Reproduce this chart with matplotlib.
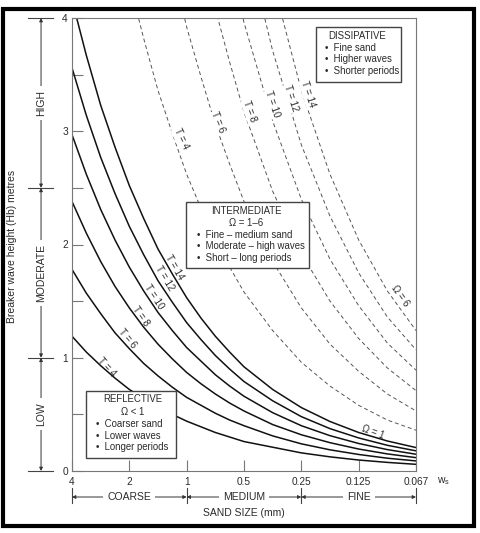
import matplotlib.pyplot as plt
import numpy as np
from matplotlib.patches import Rectangle
from matplotlib.transforms import blended_transform_factory

plt.rcParams['font.family'] = ['Liberation Sans', 'DejaVu Sans']
plt.rcParams['mathtext.fontset'] = 'custom'
plt.rcParams['mathtext.rm'] = 'Liberation Sans'

# sand size ticks (mm), evenly spaced along the axis
sand_sizes = ['4', '2', '1', '0.5', '0.25', '0.125', '0.067']
# positions along the axis where the curves were read (tick index units)
x_pos = [0, 0.25, 0.5, 0.75, 1, 1.25, 1.5, 1.75, 2, 2.25, 2.5, 2.75, 3,
         3.5, 4, 4.5, 5, 5.5, 6]

# breaker height Hb (m) for omega = 1, one list per wave period T
omega1_T4 = [1.19, 1.05, 0.93, 0.82, 0.72, 0.64, 0.56, 0.50, 0.44, 0.39, 0.34, 0.30, 0.26,
             0.21, 0.16, 0.125, 0.097, 0.076, 0.059]
omega1_T6 = [1.78, 1.57, 1.39, 1.22, 1.08, 0.95, 0.84, 0.74, 0.65, 0.58, 0.51, 0.45, 0.40,
             0.31, 0.24, 0.187, 0.146, 0.113, 0.089]
omega1_T8 = [2.38, 2.10, 1.85, 1.63, 1.44, 1.27, 1.12, 0.99, 0.87, 0.77, 0.68, 0.60, 0.53,
             0.41, 0.32, 0.25, 0.194, 0.151, 0.118]
omega1_T10 = [2.97, 2.62, 2.31, 2.04, 1.80, 1.59, 1.40, 1.24, 1.09, 0.97, 0.85, 0.75, 0.66,
              0.515, 0.40, 0.312, 0.243, 0.189, 0.148]
omega1_T12 = [3.56, 3.14, 2.77, 2.45, 2.16, 1.91, 1.68, 1.49, 1.31, 1.16, 1.02, 0.90, 0.79,
              0.62, 0.48, 0.374, 0.292, 0.227, 0.178]
omega1_T14 = [4.16, 3.67, 3.23, 2.86, 2.52, 2.23, 1.96, 1.74, 1.53, 1.35, 1.19, 1.05, 0.92,
              0.72, 0.56, 0.437, 0.34, 0.265, 0.207]

# breaker height Hb (m) for omega = 6 (None = above the chart)
omega6_T4 = [None, None, None, None, 4.32, 3.82, 3.36, 2.98, 2.62, 2.32, 2.04, 1.80, 1.58,
             1.24, 0.96, 0.75, 0.58, 0.45, 0.36]
omega6_T6 = [None, None, None, None, None, None, None, 4.46, 3.92, 3.48, 3.06, 2.71, 2.38,
             1.85, 1.44, 1.12, 0.88, 0.68, 0.53]
omega6_T8 = [None, None, None, None, None, None, None, None, None, None, 4.08, 3.61, 3.17,
             2.47, 1.92, 1.50, 1.17, 0.91, 0.71]
omega6_T10 = [None, None, None, None, None, None, None, None, None, None, None, 4.51, 3.96,
              3.09, 2.40, 1.87, 1.46, 1.13, 0.89]
omega6_T12 = [None, None, None, None, None, None, None, None, None, None, None, None, 4.75,
              3.71, 2.88, 2.25, 1.75, 1.36, 1.07]
omega6_T14 = [None, None, None, None, None, None, None, None, None, None, None, None, None,
              4.33, 3.36, 2.62, 2.04, 1.59, 1.24]

periods = [4, 6, 8, 10, 12, 14]
solid = [omega1_T4, omega1_T6, omega1_T8, omega1_T10, omega1_T12, omega1_T14]
dashed = [omega6_T4, omega6_T6, omega6_T8, omega6_T10, omega6_T12, omega6_T14]

txt = '#2a2a2a'
fig = plt.figure(figsize=(4.81, 5.33), dpi=100)
ax = fig.add_axes([72/481, 1-471/533, 344/481, 453/533])

for vals in solid:
    ax.plot(x_pos, vals, color='#111111', lw=1.1, zorder=2)
for vals in dashed:
    ax.plot(x_pos, np.array(vals, dtype=float), color='#555555', lw=0.7,
            ls=(0, (4, 3)), zorder=2)

ax.set_xlim(0, 6)
ax.set_ylim(0, 4)
ax.set_xticks(range(7))
ax.set_xticklabels(sand_sizes)
ax.set_yticks([0, 1, 2, 3, 4])
ax.set_yticks([0.5, 1.5, 2.5, 3.5], minor=True)
ax.tick_params(which='both', direction='in', length=8, width=0.8, color='#777777',
               labelsize=7.3, labelcolor=txt)
ax.tick_params(axis='x', pad=4)
ax.tick_params(axis='y', pad=3)
for s in ax.spines.values():
    s.set_color('#777777')
    s.set_linewidth(0.8)

# curve labels (T values)
solid_lab = [(0.61, 0.92, -48), (0.96, 1.17, -50), (1.20, 1.37, -55),
             (1.43, 1.54, -57), (1.61, 1.70, -59), (1.78, 1.80, -60)]
dashed_lab = [(1.90, 2.93, -65), (2.55, 3.08, -68), (3.10, 3.18, -70),
              (3.49, 3.24, -71), (3.82, 3.29, -72), (4.12, 3.33, -72)]
for T, (x, y, r) in zip(periods, solid_lab):
    ax.text(x, y, 'T = %d' % T, rotation=r, ha='center', va='center', fontsize=6.9,
            color=txt, zorder=3)
for T, (x, y, r) in zip(periods, dashed_lab):
    ax.text(x, y, 'T = %d' % T, rotation=r, ha='center', va='center', fontsize=6.9,
            color=txt, zorder=3,
            bbox=dict(boxstyle='square,pad=0.1', fc='white', ec='none'))
ax.text(5.25, 0.345, 'Ω = 1', rotation=-20, ha='center', va='center', fontsize=6.9, color=txt)
ax.text(5.72, 1.55, 'Ω = 6', rotation=-55, ha='center', va='center', fontsize=6.9, color=txt,
        bbox=dict(boxstyle='square,pad=0.1', fc='white', ec='none'))


def box(x0, y0, x1, y1):
    ax.add_patch(Rectangle((x0, y0), x1-x0, y1-y0, transform=ax.transAxes,
                           fc='white', ec='#444444', lw=1.0, zorder=4))


def line(x, y, s, ha='left'):
    ax.text(x, y, s, transform=ax.transAxes, ha=ha, va='center', fontsize=6.9,
            color=txt, zorder=5)


# reflective
box(0.041, 0.029, 0.302, 0.177)
line(0.177, 0.159, 'REFLECTIVE', 'center')
line(0.177, 0.131, 'Ω < 1', 'center')
for yy, s in zip([0.104, 0.078, 0.053], ['Coarser sand', 'Lower waves', 'Longer periods']):
    line(0.070, yy, '•  ' + s)

# intermediate
box(0.331, 0.448, 0.689, 0.594)
line(0.506, 0.574, 'INTERMEDIATE', 'center')
line(0.506, 0.548, 'Ω = 1–6', 'center')
for yy, s in zip([0.521, 0.497, 0.471], ['Fine – medium sand', 'Moderate – high waves',
                                         'Short – long periods']):
    line(0.363, yy, '•  ' + s)

# dissipative
box(0.709, 0.859, 0.956, 0.980)
line(0.830, 0.960, 'DISSIPATIVE', 'center')
for yy, s in zip([0.934, 0.909, 0.883], ['Fine sand', 'Higher waves', 'Shorter periods']):
    line(0.735, yy, '•  ' + s)

# wave height classes on the left
tr_y = blended_transform_factory(ax.transAxes, ax.transData)
xa = -0.090
for yb in [0, 1, 2.5, 4]:
    ax.plot([-0.128, -0.055], [yb, yb], transform=tr_y, clip_on=False, color='#444444', lw=0.8)
for lo, hi, name in [(2.5, 4, 'HIGH'), (1, 2.5, 'MODERATE'), (0, 1, 'LOW')]:
    ax.annotate('', xy=(xa, hi), xytext=(xa, lo), xycoords=tr_y, textcoords=tr_y,
                arrowprops=dict(arrowstyle='<|-|>', lw=0.7, color='#333333',
                                shrinkA=0, shrinkB=0, mutation_scale=5))
    ax.text(xa, (lo+hi)/2, name, transform=tr_y, rotation=90, ha='center', va='center',
            fontsize=7.5, color=txt, bbox=dict(boxstyle='square,pad=0.4', fc='white', ec='none'))

# sand classes below
tr_x = blended_transform_factory(ax.transData, ax.transAxes)
ya = -0.0574
for xb in [0, 2, 4, 6]:
    ax.plot([xb, xb], [-0.037, -0.071], transform=tr_x, clip_on=False, color='#444444', lw=0.8)
for lo, hi, name in [(0, 2, 'COARSE'), (2, 4, 'MEDIUM'), (4, 6, 'FINE')]:
    ax.annotate('', xy=(hi, ya), xytext=(lo, ya), xycoords=tr_x, textcoords=tr_x,
                arrowprops=dict(arrowstyle='<|-|>', lw=0.7, color='#333333',
                                shrinkA=0, shrinkB=0, mutation_scale=5))
    ax.text((lo+hi)/2, ya, name, transform=tr_x, ha='center', va='center', fontsize=7.5,
            color=txt, bbox=dict(boxstyle='square,pad=0.4', fc='white', ec='none'))

ax.text(3, -0.093, 'SAND SIZE (mm)', transform=tr_x, ha='center', va='center',
        fontsize=7.5, color=txt)
ax.text(1.081, -0.022, 'w$_\\mathrm{s}$', transform=ax.transAxes, ha='center', va='center',
        fontsize=7.5, color=txt)

fig.text(12/481, 1-246/533, 'Breaker wave height (Hb) metres', rotation=90,
         ha='center', va='center', fontsize=7.5, color=txt)

# thick frame round the whole figure
fig.add_artist(Rectangle((2.5/481, 1-526/533), 472/481, 517/533, transform=fig.transFigure,
                         fill=False, ec='black', lw=3))

fig.savefig('out.png', dpi=100)
